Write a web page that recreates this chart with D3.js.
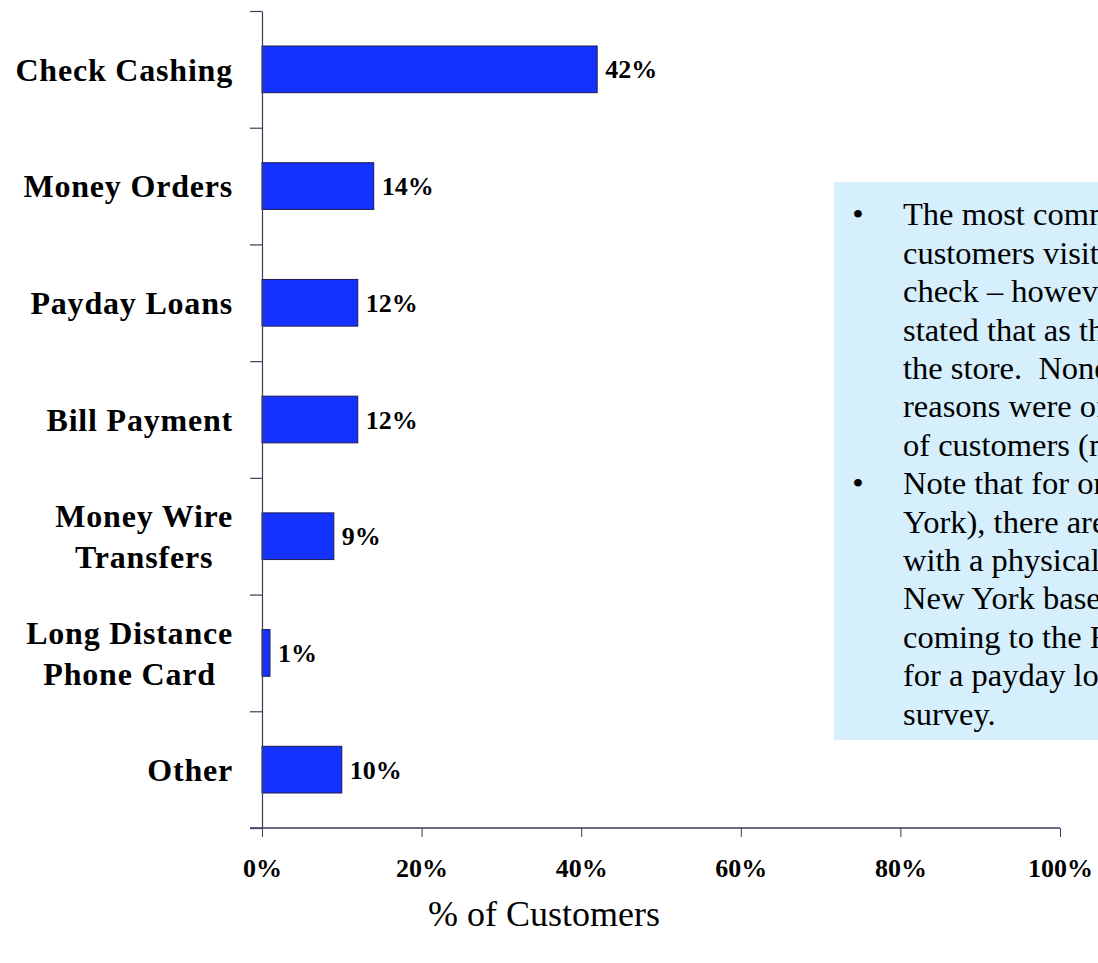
<!DOCTYPE html>
<html>
<head>
<meta charset="utf-8">
<script src="https://cdn.jsdelivr.net/npm/d3@7"></script>
<style>
  html, body { margin: 0; padding: 0; background: #ffffff; }
  svg { display: block; }
  text { font-family: "Liberation Serif", "Times New Roman", serif; }
</style>
</head>
<body>
<svg id="chart" width="1098" height="963"></svg>
<script>
// Reasons customers gave for visiting the store
const categories = [
  ["Check Cashing"],
  ["Money Orders"],
  ["Payday Loans"],
  ["Bill Payment"],
  ["Money Wire", "Transfers"],
  ["Long Distance", "Phone Card"],
  ["Other"]
];
const shares = [0.42, 0.14, 0.12, 0.12, 0.09, 0.01, 0.10];
const xTicks = [0, 0.2, 0.4, 0.6, 0.8, 1.0];
const xTitle = "% of Customers";

// Commentary panel, one array per bullet (line breaks as laid out)
const note1 = [
  "The most common reason",
  "customers visited the store",
  "check – however, only 42%",
  "stated that as their reason",
  "the store.  None of the other",
  "reasons were offered by a",
  "of customers (more than"
];
const note2 = [
  "Note that for one state (New",
  "York), there are no stores",
  "with a physical presence;",
  "New York based customers",
  "coming to the FSC store",
  "for a payday loan in the",
  "survey."
];

const svg = d3.select("#chart");
const W = 1098, H = 963;
svg.append("rect").attr("width", W).attr("height", H).attr("fill", "#ffffff");

const plotLeft = 262, plotRight = 1060, plotTop = 11, plotBottom = 828;
const axisColor = "#3c3c5c";

const x = d3.scaleLinear().domain([0, 1]).range([plotLeft, plotRight]);
const y = d3.scaleBand()
  .domain(d3.range(categories.length))
  .range([plotTop, plotBottom])
  .paddingInner(0.6)
  .paddingOuter(0.3);

// Category boundaries for the left axis tick marks
const yEdges = d3.scaleLinear().domain([0, categories.length]).range([plotTop, plotBottom]);

// Commentary panel to the right of the bars, running off the right edge
const boxX = 834, boxTop = 182, boxBottom = 740;
svg.append("clipPath").attr("id", "panel-clip")
  .append("rect")
  .attr("x", boxX).attr("y", boxTop)
  .attr("width", W - boxX).attr("height", boxBottom - boxTop);
const panel = svg.append("g").attr("clip-path", "url(#panel-clip)");
panel.append("rect")
  .attr("x", boxX).attr("y", boxTop)
  .attr("width", W - boxX).attr("height", boxBottom - boxTop)
  .attr("fill", "#d5effd");

const lineH = 38.4, firstLine = 214, textX = 903, bulletX = 858;
const noteG = panel.append("g").attr("font-size", 32.5).attr("fill", "#000");
[note1, note2].forEach((lines, bi) => {
  const start = bi === 0 ? 0 : note1.length;
  noteG.append("text")
    .attr("x", bulletX).attr("y", firstLine + start * lineH)
    .attr("dy", "0.35em").attr("text-anchor", "middle")
    .text("•");
  lines.forEach((ln, i) => {
    noteG.append("text")
      .attr("x", textX).attr("y", firstLine + (start + i) * lineH)
      .attr("dy", "0.35em")
      .attr("xml:space", "preserve")
      .text(ln);
  });
});

// Bars
svg.append("g").selectAll("rect")
  .data(shares)
  .join("rect")
  .attr("x", x(0))
  .attr("y", (d, i) => y(i))
  .attr("width", d => x(d) - x(0))
  .attr("height", y.bandwidth())
  .attr("fill", "#1432ff")
  .attr("stroke", "#1c1c50")
  .attr("stroke-width", 1);

// Value labels
svg.append("g").selectAll("text")
  .data(shares)
  .join("text")
  .attr("x", d => x(d) + 8)
  .attr("y", (d, i) => y(i) + y.bandwidth() / 2)
  .attr("dy", "0.35em")
  .attr("font-size", 26)
  .attr("font-weight", "bold")
  .text(d => d3.format(".0%")(d));

// Left axis: domain line with ticks at category boundaries
const yAxis = svg.append("g")
  .attr("transform", `translate(${plotLeft},0)`)
  .call(d3.axisLeft(yEdges).tickValues(d3.range(categories.length + 1)).tickFormat("").tickSize(12).tickSizeOuter(0));
yAxis.selectAll("path, line").attr("stroke", axisColor).attr("stroke-width", 1.2);

// Bottom axis
const xAxis = svg.append("g")
  .attr("transform", `translate(0,${plotBottom})`)
  .call(d3.axisBottom(x).tickValues(xTicks).tickFormat(d3.format(".0%")).tickSize(9).tickPadding(22).tickSizeOuter(0));
xAxis.select(".domain").remove();
xAxis.append("line")
  .attr("x1", x(0) - 12).attr("x2", x(1))
  .attr("stroke", axisColor).attr("stroke-width", 1.5);
xAxis.selectAll("line").attr("stroke", axisColor);
xAxis.selectAll("text")
  .attr("font-family", "Liberation Serif, serif")
  .attr("font-size", 26)
  .attr("font-weight", "bold")
  .attr("fill", "#000");

// Category labels, multi-line ones centred on each other and right-aligned as a block
const labelRight = 233;
const catG = svg.append("g")
  .attr("font-size", 32)
  .attr("font-weight", "bold")
  .attr("letter-spacing", 0.8)
  .attr("fill", "#000");
categories.forEach((lines, i) => {
  const cy = y(i) + y.bandwidth() / 2;
  const g = catG.append("g");
  const gap = 41;
  const texts = lines.map((ln, j) =>
    g.append("text")
      .attr("y", cy + (j - (lines.length - 1) / 2) * gap)
      .attr("dy", "0.35em")
      .attr("text-anchor", "middle")
      .text(ln)
  );
  const maxW = d3.max(texts, t => t.node().getComputedTextLength());
  texts.forEach(t => t.attr("x", labelRight - maxW / 2));
});

// Axis title
svg.append("text")
  .attr("x", 544)
  .attr("y", 913)
  .attr("dy", "0.35em")
  .attr("text-anchor", "middle")
  .attr("font-size", 36)
  .text(xTitle);
</script>
</body>
</html>
